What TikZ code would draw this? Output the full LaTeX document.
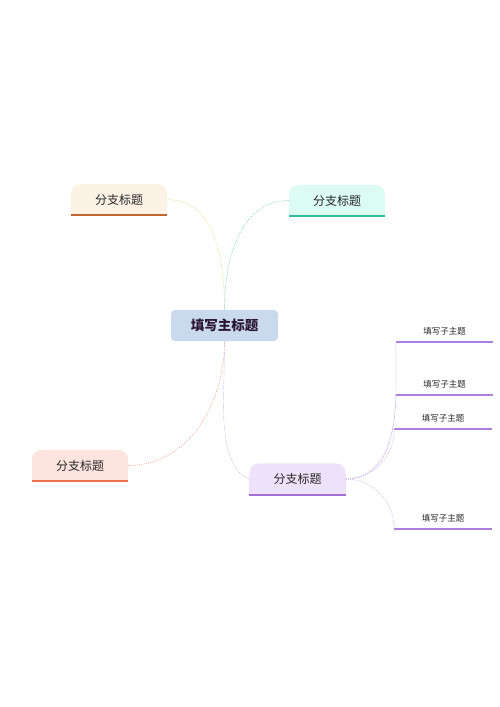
\documentclass[tikz,border=0pt]{standalone}
\usepackage{fontspec}
\newfontfamily\cjk{Noto Sans CJK SC}
\usetikzlibrary{backgrounds}
\definecolor{maincol}{HTML}{C9D9EE}
\definecolor{titlecol}{HTML}{2B1535}
\definecolor{tlfill}{HTML}{FCF2E6}
\definecolor{tlline}{HTML}{C2652F}
\definecolor{tllink}{HTML}{EBD58C}
\definecolor{trfill}{HTML}{DCFBF3}
\definecolor{trline}{HTML}{2BBF9E}
\definecolor{trlink}{HTML}{7ED6C4}
\definecolor{blfill}{HTML}{FDE4DE}
\definecolor{blline}{HTML}{E9714F}
\definecolor{bllink}{HTML}{F2A58E}
\definecolor{brfill}{HTML}{EEE2FA}
\definecolor{brline}{HTML}{A46FD4}
\definecolor{brlink}{HTML}{CDB6EC}
\definecolor{subline}{HTML}{B07FDD}
\tikzset{
  branch/.style={minimum width=96pt, minimum height=31pt, inner sep=0pt,
    font=\cjk\fontsize{12}{14}\selectfont, text=black!85},
  subtopic/.style={minimum width=97pt, minimum height=22pt, inner sep=0pt,
    font=\cjk\fontsize{8.5}{10}\selectfont, text=black!85},
  link/.style={line width=0.7pt, dash pattern=on 0.9pt off 1.3pt},
}
\begin{document}
\begin{tikzpicture}[x=1pt, y=-1pt]
                \useasboundingbox (0,0) rectangle (500,707);
                % main topic
                \node [fill=maincol, rounded corners=4pt, minimum width=107pt, minimum height=31pt,
                       font=\cjk\bfseries\fontsize{13.5}{15}\selectfont, text=titlecol] (main) at (224.5,325.5) {填写主标题};
                % branches
                \node [branch] (tl) at (119,199.5) {分支标题};
                \node [branch] (tr) at (337,200.5) {分支标题};
                \node [branch] (bl) at (80,465.5) {分支标题};
                \node [branch] (br) at (297.5,479) {分支标题};
                \begin{scope}[on background layer]
                \fill [tlfill, rounded corners=10pt] (tl.south west) rectangle (tl.north east);
                \fill [tlfill] (tl.south west) rectangle (tl.east);
                \fill [trfill, rounded corners=10pt] (tr.south west) rectangle (tr.north east);
                \fill [trfill] (tr.south west) rectangle (tr.east);
                \fill [blfill, rounded corners=10pt] (bl.south west) rectangle (bl.north east);
                \fill [blfill] (bl.south west) rectangle (bl.east);
                \fill [brfill, rounded corners=10pt] (br.south west) rectangle (br.north east);
                \fill [brfill] (br.south west) rectangle (br.east);
                \end{scope}
                \draw [tlline, line width=2pt] (tl.south west) -- (tl.south east);
                \draw [trline, line width=2pt] (tr.south west) -- (tr.south east);
                \draw [blline, line width=2pt] (bl.south west) -- (bl.south east);
                \draw [brline, line width=2pt] (br.south west) -- (br.south east);
                % subtopics
                \node [subtopic] (s1) at (444.5,331) {填写子主题};
                \node [subtopic] (s2) at (444.5,384) {填写子主题};
                \node [subtopic] (s3) at (443,418) {填写子主题};
                \node [subtopic] (s4) at (443,518) {填写子主题};
                \foreach \s in {s1,s2,s3,s4}
                    \draw [subline, line width=1.6pt] (\s.south west) -- (\s.south east);
                % links
                \draw [link, tllink] (main.north) to [out=90, in=0] (tl.east);
                \draw [link, trlink] (main.north) to [out=90, in=180] (tr.west);
                \draw [link, bllink] (main.south) to [out=-90, in=0] (bl.east);
                \draw [link, brlink] (main.south) to [out=-88, in=160, looseness=0.7] (br.west);
                \draw [link, brlink] (br.east) to [out=0, in=-90] (s1.south west);
                \draw [link, brlink] (br.east) to [out=0, in=-90] (s2.south west);
                \draw [link, brlink] (br.east) to [out=0, in=-90] (s3.south west);
                \draw [link, brlink] (br.east) to [out=0, in=90] (s4.south west);
            \end{tikzpicture}
\end{document}
